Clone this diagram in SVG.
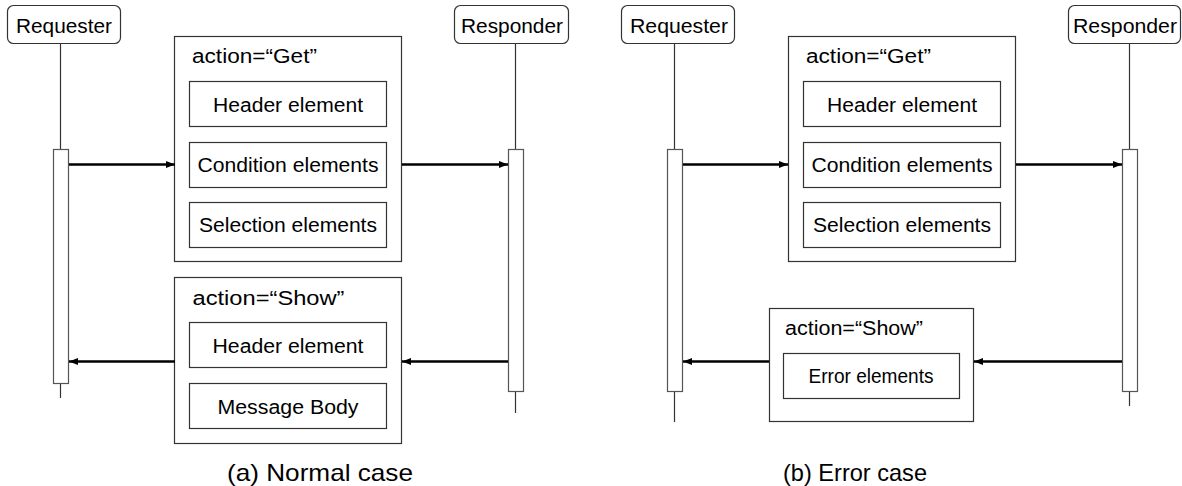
<svg xmlns="http://www.w3.org/2000/svg" width="1182" height="486" viewBox="0 0 1182 486">
<defs>
<style>
.box{fill:#fff;stroke:#333;stroke-width:1.2}
.actor{fill:#fff;stroke:#333;stroke-width:1.2}
.life{stroke:#333;stroke-width:1.2;fill:none}
.act{fill:#fff;stroke:#555;stroke-width:1.2}
.arr{stroke:#000;stroke-width:2.5;fill:none;marker-end:url(#ah)}
text{font-family:"Liberation Sans",Arial,sans-serif;fill:#000}
.t{font-size:20px}
.c{text-anchor:middle}
.lbl{font-size:21px}
.cap{font-size:24px}
</style>
<marker id="ah" markerUnits="userSpaceOnUse" viewBox="0 0 10 10" refX="10" refY="5" markerWidth="9" markerHeight="9" orient="auto">
<path d="M0,1 L10,5 L0,9 Z" fill="#000"/>
</marker>
</defs>

<!-- (a) Normal case -->
<g id="requester-a">
<rect class="actor" x="7.5" y="5.5" width="113" height="38" rx="6"/>
<text class="lbl c" x="64" y="33" textLength="96" lengthAdjust="spacingAndGlyphs">Requester</text>
<line class="life" x1="60.5" y1="43.5" x2="60.5" y2="398"/>
<rect class="act" x="53.5" y="149.5" width="15" height="234"/>
</g>
<g id="responder-a">
<rect class="actor" x="454.5" y="5.5" width="114" height="38" rx="6"/>
<text class="lbl c" x="512" y="33" textLength="102" lengthAdjust="spacingAndGlyphs">Responder</text>
<line class="life" x1="515.5" y1="43.5" x2="515.5" y2="413"/>
<rect class="act" x="508.5" y="149.5" width="15" height="242"/>
</g>
<g id="get-a">
<rect class="box" x="174.5" y="36.5" width="227" height="225"/>
<text class="t" x="192" y="63" textLength="125" lengthAdjust="spacingAndGlyphs">action=“Get”</text>
<rect class="box" x="189.5" y="81.5" width="197" height="45"/>
<text class="t c" x="288" y="112" textLength="150" lengthAdjust="spacingAndGlyphs">Header element</text>
<rect class="box" x="189.5" y="142.5" width="197" height="45"/>
<text class="t c" x="288" y="172" textLength="181" lengthAdjust="spacingAndGlyphs">Condition elements</text>
<rect class="box" x="189.5" y="202.5" width="197" height="45"/>
<text class="t c" x="288" y="232" textLength="178" lengthAdjust="spacingAndGlyphs">Selection elements</text>
</g>
<g id="show-a">
<rect class="box" x="174.5" y="277.5" width="227" height="166"/>
<text class="t" x="192.5" y="305" textLength="152" lengthAdjust="spacingAndGlyphs">action=“Show”</text>
<rect class="box" x="189.5" y="322.5" width="197" height="45"/>
<text class="t c" x="288" y="353" textLength="151" lengthAdjust="spacingAndGlyphs">Header element</text>
<rect class="box" x="189.5" y="383.5" width="197" height="45"/>
<text class="t c" x="288" y="414" textLength="141" lengthAdjust="spacingAndGlyphs">Message Body</text>
</g>
<text id="caption-a" class="cap c" x="320" y="481" textLength="186" lengthAdjust="spacingAndGlyphs">(a) Normal case</text>

<!-- (b) Error case -->
<g id="requester-b">
<rect class="actor" x="621.5" y="5.5" width="113" height="38" rx="6"/>
<text class="lbl c" x="679" y="33" textLength="98" lengthAdjust="spacingAndGlyphs">Requester</text>
<line class="life" x1="674.5" y1="43.5" x2="674.5" y2="422"/>
<rect class="act" x="667.5" y="149.5" width="15" height="242"/>
</g>
<g id="responder-b">
<rect class="actor" x="1068.5" y="5.5" width="112" height="38" rx="6"/>
<text class="lbl c" x="1125" y="33" textLength="104" lengthAdjust="spacingAndGlyphs">Responder</text>
<line class="life" x1="1129.5" y1="43.5" x2="1129.5" y2="406"/>
<rect class="act" x="1122.5" y="149.5" width="15" height="242"/>
</g>
<g id="get-b">
<rect class="box" x="788.5" y="36.5" width="227" height="225"/>
<text class="t" x="806" y="63" textLength="125" lengthAdjust="spacingAndGlyphs">action=“Get”</text>
<rect class="box" x="803.5" y="81.5" width="197" height="45"/>
<text class="t c" x="902" y="112" textLength="150" lengthAdjust="spacingAndGlyphs">Header element</text>
<rect class="box" x="803.5" y="142.5" width="197" height="45"/>
<text class="t c" x="902" y="172" textLength="181" lengthAdjust="spacingAndGlyphs">Condition elements</text>
<rect class="box" x="803.5" y="202.5" width="197" height="45"/>
<text class="t c" x="902" y="232" textLength="178" lengthAdjust="spacingAndGlyphs">Selection elements</text>
</g>
<g id="show-b">
<rect class="box" x="769.5" y="308.5" width="204" height="113"/>
<text class="t" x="785" y="335" textLength="138" lengthAdjust="spacingAndGlyphs">action=“Show”</text>
<rect class="box" x="783.5" y="353.5" width="176" height="45"/>
<text class="t c" x="871" y="383" textLength="125" lengthAdjust="spacingAndGlyphs">Error elements</text>
</g>
<text id="caption-b" class="cap c" x="855" y="481" textLength="144" lengthAdjust="spacingAndGlyphs">(b) Error case</text>

<g id="connectors">
<line class="arr" x1="69" y1="164.5" x2="175" y2="164.5"/>
<line class="arr" x1="402" y1="164.5" x2="508" y2="164.5"/>
<line class="arr" x1="508" y1="361.5" x2="402" y2="361.5"/>
<line class="arr" x1="175" y1="361.5" x2="69" y2="361.5"/>
<line class="arr" x1="683" y1="164.5" x2="788" y2="164.5"/>
<line class="arr" x1="1016" y1="164.5" x2="1122" y2="164.5"/>
<line class="arr" x1="1122" y1="361.5" x2="974" y2="361.5"/>
<line class="arr" x1="769" y1="361.5" x2="683" y2="361.5"/>
</g>
</svg>
